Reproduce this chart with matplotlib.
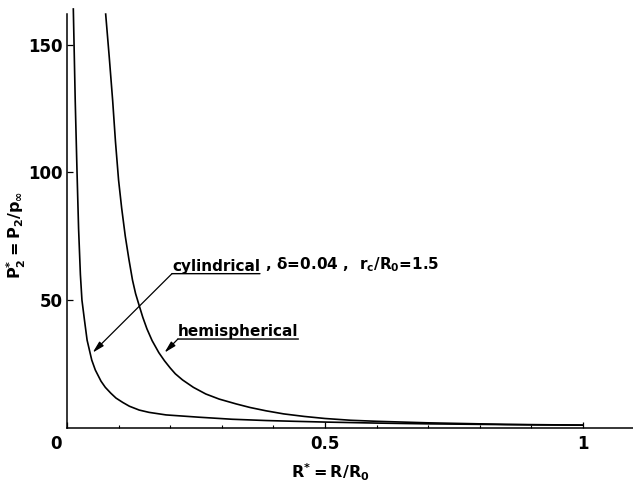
import matplotlib
matplotlib.use("Agg")
import matplotlib.pyplot as plt
import matplotlib.transforms as mtransforms
from matplotlib.ticker import MultipleLocator

plt.rcParams["font.family"] = "DejaVu Sans"
plt.rcParams["font.weight"] = "bold"
plt.rcParams["mathtext.default"] = "bf"

# values (R* = R/R0, P2* = P2/p_inf)
cyl_R = [0.0123, 0.016, 0.0195, 0.0225, 0.026, 0.029, 0.034, 0.039, 0.048, 0.0549,
         0.066, 0.0743, 0.085, 0.095, 0.108, 0.121, 0.14, 0.159, 0.192, 0.256,
         0.32, 0.386, 0.44, 0.5, 0.55, 0.6, 0.65, 0.7, 0.75, 0.8, 0.85, 0.9, 0.95, 1.0]
cyl_P = [164, 128, 100, 78, 60, 50, 42, 34.3, 26.5, 22.6,
         18.2, 15.8, 13.5, 11.6, 9.9, 8.4, 6.9, 6.0, 5.0, 4.1,
         3.3, 2.8, 2.5, 2.2, 2.0, 1.8, 1.65, 1.5, 1.4, 1.3, 1.2, 1.1, 1.05, 1.0]

hem_R = [0.075, 0.082, 0.0886, 0.094, 0.100, 0.106, 0.113, 0.12, 0.127, 0.133,
         0.14, 0.147, 0.155, 0.165, 0.178, 0.189, 0.2, 0.21, 0.224, 0.245,
         0.269, 0.295, 0.328, 0.355, 0.386, 0.42, 0.46, 0.5, 0.55, 0.6,
         0.65, 0.7, 0.75, 0.8, 0.85, 0.9, 0.95, 1.0]
hem_P = [162, 145, 128, 112, 97, 86, 75, 66, 57.8, 52.5,
         47.8, 43.2, 38.7, 34.1, 29.4, 26.2, 23.4, 21.1, 18.7, 15.8,
         13.2, 11.2, 9.3, 7.9, 6.6, 5.4, 4.4, 3.6, 2.9, 2.5,
         2.2, 1.9, 1.7, 1.5, 1.3, 1.2, 1.1, 1.0]

x_ticks = [0, 0.5, 1]
x_ticklabels = ["0", "0.5", "1"]
y_ticks = [50, 100, 150]

fig = plt.figure(figsize=(6.33, 4.86), dpi=100)
ax = fig.add_axes([0.1058, 0.12, 0.8942, 0.851])

ax.plot(cyl_R, cyl_P, color="black", lw=1.2, clip_on=False)
ax.plot(hem_R, hem_P, color="black", lw=1.2, clip_on=False)

ax.set_xlim(0, 1.097)
ax.set_ylim(0, 162)
ax.spines["top"].set_visible(False)
ax.spines["right"].set_visible(False)
ax.spines["left"].set_linewidth(1.1)
ax.spines["bottom"].set_linewidth(1.1)

ax.set_xticks(x_ticks)
ax.set_xticklabels(x_ticklabels)
ax.xaxis.set_minor_locator(MultipleLocator(0.1))
ax.set_yticks(y_ticks)
ax.tick_params(axis="both", which="major", direction="in", length=4, width=0.9,
               labelsize=12, pad=5)
ax.tick_params(axis="x", which="minor", direction="in", length=2, width=0.8)
ax.tick_params(axis="y", pad=3)

# the "0" sits a little left of the axis corner in the original
lab0 = ax.get_xticklabels()[0]
lab0.set_transform(lab0.get_transform()
                   + mtransforms.ScaledTranslation(-8 / 72, 0, fig.dpi_scale_trans))

ax.set_xlabel(r"$R^{*}= R/R_0$", fontsize=11.5)
ax.xaxis.set_label_coords(0.466, -0.083)
ax.set_ylabel(r"$P_2^{*} = P_2/p_\infty$", fontsize=11.5)
ax.yaxis.set_label_coords(-0.069, 0.466)

arrow = dict(arrowstyle="-|>,head_length=0.7,head_width=0.18", color="black",
             lw=0.9, shrinkA=0, shrinkB=0)

# cylindrical label
t1 = ax.text(0.2035, 61.5, "cylindrical", fontsize=11, ha="left", va="baseline")
ax.annotate(r" , $\delta$=0.04 ,  $r_c/R_0$=1.5", xy=(1, 0), xycoords=t1,
            xytext=(0, 0), textcoords="offset points", fontsize=11,
            ha="left", va="bottom")
ax.annotate("", xy=(1, 0), xycoords=t1, xytext=(0, 0), textcoords=t1,
            arrowprops=dict(arrowstyle="-", color="black", lw=1.0,
                            shrinkA=0, shrinkB=0))
ax.annotate("", xy=(0.0498, 29.4), xycoords="data", xytext=(0, 0), textcoords=t1,
            arrowprops=arrow)

# hemispherical label
t2 = ax.text(0.215, 35.9, "hemispherical", fontsize=11, ha="left", va="baseline")
ax.annotate("", xy=(1, 0), xycoords=t2, xytext=(0, 0), textcoords=t2,
            arrowprops=dict(arrowstyle="-", color="black", lw=1.0,
                            shrinkA=0, shrinkB=0))
ax.annotate("", xy=(0.189, 29.4), xycoords="data", xytext=(0, 0), textcoords=t2,
            arrowprops=arrow)

plt.savefig("out.png", dpi=100)
